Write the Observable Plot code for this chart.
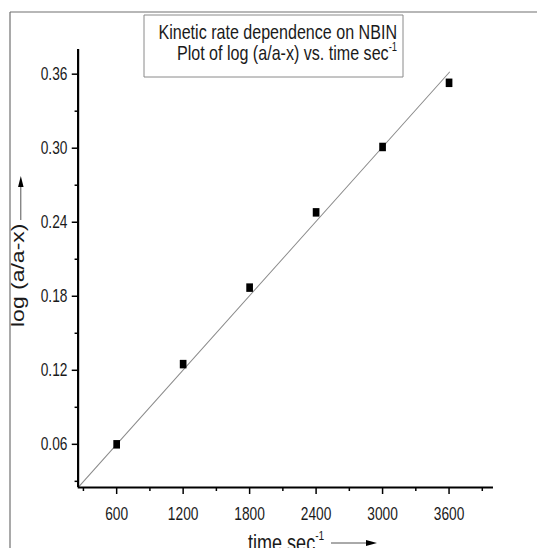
<!DOCTYPE html>
<html><head><meta charset="utf-8">
<script src="https://cdn.jsdelivr.net/npm/d3@7"></script>
<script src="https://cdn.jsdelivr.net/npm/@observablehq/plot@0.6"></script>
<style>
html,body{margin:0;padding:0;background:#fff;overflow:hidden;}
#chart{position:relative;width:537px;height:548px;overflow:hidden;}
</style></head><body><div id="chart"></div>
<script>
// ---- data ----
const times = [600, 1200, 1800, 2400, 3000, 3600];
const logValues = [0.060, 0.125, 0.187, 0.248, 0.301, 0.353];
const fitTimes = [252, 3604];
const fitValues = [0.025, 0.3616];
const xTicks = [600, 1200, 1800, 2400, 3000, 3600];
const xMinorTicks = [300, 900, 1500, 2100, 2700, 3300, 3900];
const yTicks = [0.06, 0.12, 0.18, 0.24, 0.30, 0.36];
const yMinorTicks = [0.03, 0.09, 0.15, 0.21, 0.27, 0.33];
const titleLine1 = "Kinetic rate dependence on NBIN";
const titleLine2 = "Plot of log (a/a-x) vs. time sec";
const superscript = "-1";
const xLabel = "time sec";
const yLabel = "log (a/a-x)";

// the reference is horizontally squeezed; draw wide then compress
const SX = 0.785;
const W = 537 / SX;
const H = 548;
const font = "'Liberation Sans', Arial, Helvetica, sans-serif";

const points = times.map((t, i) => ({t, v: logValues[i]}));
const fit = fitTimes.map((t, i) => ({t, v: fitValues[i]}));

const plot = Plot.plot({
  width: W, height: H,
  marginLeft: 99, marginRight: W - 628, marginTop: 49, marginBottom: 61,
  style: {fontFamily: font, fontSize: "17.5px", color: "#1a1a1a", background: "transparent", overflow: "visible"},
  x: {domain: [252, 4000]},
  y: {domain: [0.025, 0.38]},
  marks: [
    Plot.line(fit, {x: "t", y: "v", stroke: "#8c8c8c", strokeWidth: 1.1}),
    Plot.dot(points, {x: "t", y: "v", symbol: "square", r: 4.8, fill: "#000", stroke: "none"}),
    Plot.axisX(xTicks, {tickSize: 7, tickPadding: 13, tickFormat: d => String(d), stroke: "#000", strokeWidth: 1.9, label: null}),
    Plot.axisX(xMinorTicks, {tickSize: 4, tickFormat: () => "", stroke: "#000", strokeWidth: 1.9, label: null}),
    Plot.axisY(yTicks, {tickSize: 7.6, tickPadding: 6, tickFormat: d => d.toFixed(2), stroke: "#000", strokeWidth: 1.5, label: null}),
    Plot.axisY(yMinorTicks, {tickSize: 4, tickFormat: () => "", stroke: "#000", strokeWidth: 1.5, label: null}),
    Plot.ruleY([0.025], {stroke: "#000", strokeWidth: 2.2}),
    Plot.ruleX([252], {stroke: "#000", strokeWidth: 2.8})
  ]
});

plot.setAttribute("width", 537);
plot.setAttribute("height", H);
plot.setAttribute("preserveAspectRatio", "none");
plot.style.width = "537px";
plot.style.height = H + "px";
plot.style.maxWidth = "none";

const svg = d3.select(plot);
const deco = svg.append("g").attr("font-family", font).attr("fill", "#1a1a1a").attr("text-anchor", "start");

// outer frame (left and top edges)
deco.append("line").attr("x1", 10 / SX).attr("x2", 10 / SX).attr("y1", 12).attr("y2", H)
  .attr("stroke", "#707070").attr("stroke-width", 1.2).attr("vector-effect", "non-scaling-stroke");
deco.append("line").attr("x1", 10 / SX).attr("x2", W).attr("y1", 12).attr("y2", 12)
  .attr("stroke", "#707070").attr("stroke-width", 1.2).attr("vector-effect", "non-scaling-stroke");

// title box
deco.append("rect").attr("x", 144 / SX).attr("y", 15).attr("width", (403 - 144) / SX).attr("height", 62)
  .attr("fill", "#fff").attr("stroke", "#8a8a8a").attr("stroke-width", 1).attr("vector-effect", "non-scaling-stroke");
deco.append("text").attr("x", 397 / SX).attr("y", 39.5).attr("text-anchor", "end").attr("font-size", 20.5)
  .text(titleLine1);
const t2 = deco.append("text").attr("x", 397 / SX).attr("y", 60.5).attr("text-anchor", "end").attr("font-size", 20.5);
t2.append("tspan").text(titleLine2);
t2.append("tspan").attr("font-size", 12).attr("dy", -9).text(superscript);

// x label
const xl = deco.append("text").attr("x", 248 / SX).attr("y", 551.5).attr("font-size", 23);
xl.append("tspan").text(xLabel);
xl.append("tspan").attr("font-size", 13).attr("dy", -11).text(superscript);
deco.append("line").attr("x1", 331 / SX).attr("x2", 368 / SX).attr("y1", 543).attr("y2", 543)
  .attr("stroke", "#555").attr("stroke-width", 1).attr("vector-effect", "non-scaling-stroke");
deco.append("path").attr("d", `M${366 / SX},540 L${377 / SX},543 L${366 / SX},546 Z`).attr("fill", "#000");

// y label
deco.append("text").attr("transform", "translate(31,327) rotate(-90)").attr("font-size", 23)
  .text(yLabel);
deco.append("line").attr("x1", 26.5).attr("x2", 26.5).attr("y1", 220).attr("y2", 185)
  .attr("stroke", "#555").attr("stroke-width", 1).attr("vector-effect", "non-scaling-stroke");
deco.append("path").attr("d", `M${26.5 - 3.5},187 L26.5,176 L${26.5 + 3.5},187 Z`).attr("fill", "#000");

document.getElementById("chart").appendChild(plot);
</script></body></html>
